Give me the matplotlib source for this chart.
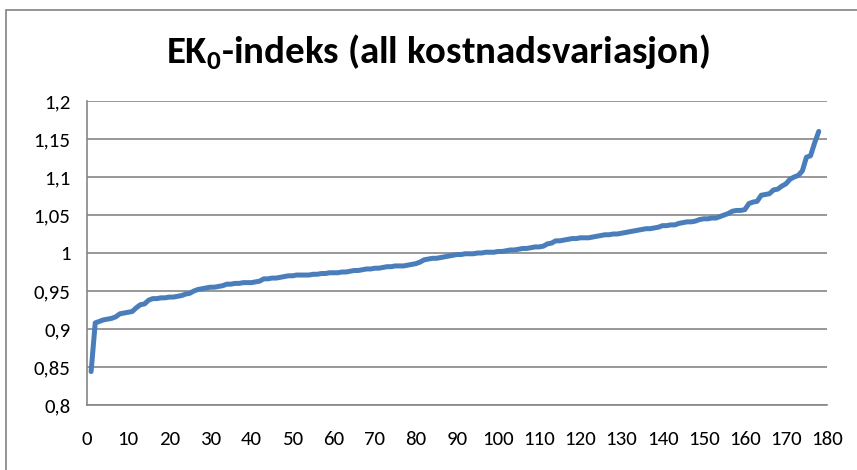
import matplotlib
matplotlib.use("Agg")
import matplotlib.pyplot as plt
from matplotlib import font_manager
from matplotlib.ticker import FuncFormatter, FixedLocator
from matplotlib.patches import Rectangle

# sorted index values (unit 1..178)
ek0 = [
    0.844, 0.908, 0.910, 0.912, 0.913, 0.914, 0.916, 0.920, 0.921, 0.922,
    0.923, 0.928, 0.932, 0.933, 0.938, 0.940, 0.940, 0.941, 0.941, 0.942,
    0.942, 0.943, 0.944, 0.946, 0.947, 0.950, 0.952, 0.953, 0.954, 0.955,
    0.955, 0.956, 0.957, 0.959, 0.959, 0.960, 0.960, 0.961, 0.961, 0.961,
    0.962, 0.963, 0.966, 0.966, 0.967, 0.967, 0.968, 0.969, 0.970, 0.970,
    0.971, 0.971, 0.971, 0.971, 0.972, 0.972, 0.973, 0.973, 0.974, 0.974,
    0.974, 0.975, 0.975, 0.976, 0.977, 0.977, 0.978, 0.979, 0.979, 0.980,
    0.980, 0.981, 0.982, 0.982, 0.983, 0.983, 0.983, 0.984, 0.985, 0.986,
    0.988, 0.991, 0.992, 0.993, 0.993, 0.994, 0.995, 0.996, 0.997, 0.998,
    0.998, 0.999, 0.999, 0.999, 1.000, 1.000, 1.001, 1.001, 1.001, 1.002,
    1.002, 1.003, 1.004, 1.004, 1.005, 1.006, 1.006, 1.007, 1.008, 1.008,
    1.009, 1.012, 1.013, 1.016, 1.016, 1.017, 1.018, 1.019, 1.019, 1.020,
    1.020, 1.020, 1.021, 1.022, 1.023, 1.024, 1.024, 1.025, 1.025, 1.026,
    1.027, 1.028, 1.029, 1.030, 1.031, 1.032, 1.032, 1.033, 1.034, 1.036,
    1.036, 1.037, 1.037, 1.039, 1.040, 1.041, 1.041, 1.042, 1.044, 1.045,
    1.045, 1.046, 1.046, 1.048, 1.050, 1.052, 1.055, 1.056, 1.056, 1.057,
    1.065, 1.067, 1.068, 1.076, 1.077, 1.078, 1.083, 1.084, 1.088, 1.091,
    1.097, 1.100, 1.102, 1.108, 1.126, 1.128, 1.145, 1.160,
]
units = list(range(1, len(ek0) + 1))
yticks = [0.8, 0.85, 0.9, 0.95, 1.0, 1.05, 1.1, 1.15, 1.2]
xticks = [0, 10, 20, 30, 40, 50, 60, 70, 80, 90, 100, 110, 120, 130, 140, 150, 160, 170, 180]
title = "EK$_\\mathbf{0}$-indeks (all kostnadsvariasjon)"

# Calibri-like narrow font if we have one
names = set(f.name for f in font_manager.fontManager.ttflist)
fam = "DejaVu Sans"
for cand in ["Carlito", "Liberation Sans Narrow", "Open Sans", "Liberation Sans"]:
    if cand in names:
        fam = cand
        break
plt.rcParams["font.family"] = [fam, "DejaVu Sans"]
plt.rcParams["mathtext.fontset"] = "custom"
plt.rcParams["mathtext.rm"] = fam
plt.rcParams["mathtext.bf"] = fam + ":bold"

W, H = 857, 470
fig = plt.figure(figsize=(W / 100, H / 100), dpi=100)
ax = fig.add_axes([87 / W, 1 - 405 / H, (827 - 87) / W, (405 - 101) / H])

ax.plot(units, ek0, color="#4A7EBB", lw=3.6, solid_capstyle="round", solid_joinstyle="round", zorder=3)

ax.set_xlim(0, 180)
ax.set_ylim(0.8, 1.2)
ax.xaxis.set_major_locator(FixedLocator(xticks))
ax.yaxis.set_major_locator(FixedLocator(yticks))
ax.yaxis.set_major_formatter(FuncFormatter(lambda v, p: ("%g" % round(v, 2)).replace(".", ",")))
ax.tick_params(axis="both", length=0, labelsize=15, colors="black")
ax.tick_params(axis="y", pad=12)
ax.tick_params(axis="x", pad=19)
ax.grid(axis="y", color="#868686", lw=1.2, zorder=1)

for s in ["top", "right"]:
    ax.spines[s].set_visible(False)
for s in ["left", "bottom"]:
    ax.spines[s].set_color("#868686")
    ax.spines[s].set_linewidth(1.2)

fig.text(438 / W, 1 - 52 / H, title, ha="center", va="center", fontsize=28, fontweight="bold")

# chart border, runs off the right and bottom edges
fig.patches.append(Rectangle((6 / W, -0.1), 1.2, 1 - 10 / H + 0.1, transform=fig.transFigure,
                             fill=False, edgecolor="#8c8c8c", lw=1.3))

fig.savefig("out.png", dpi=100)
